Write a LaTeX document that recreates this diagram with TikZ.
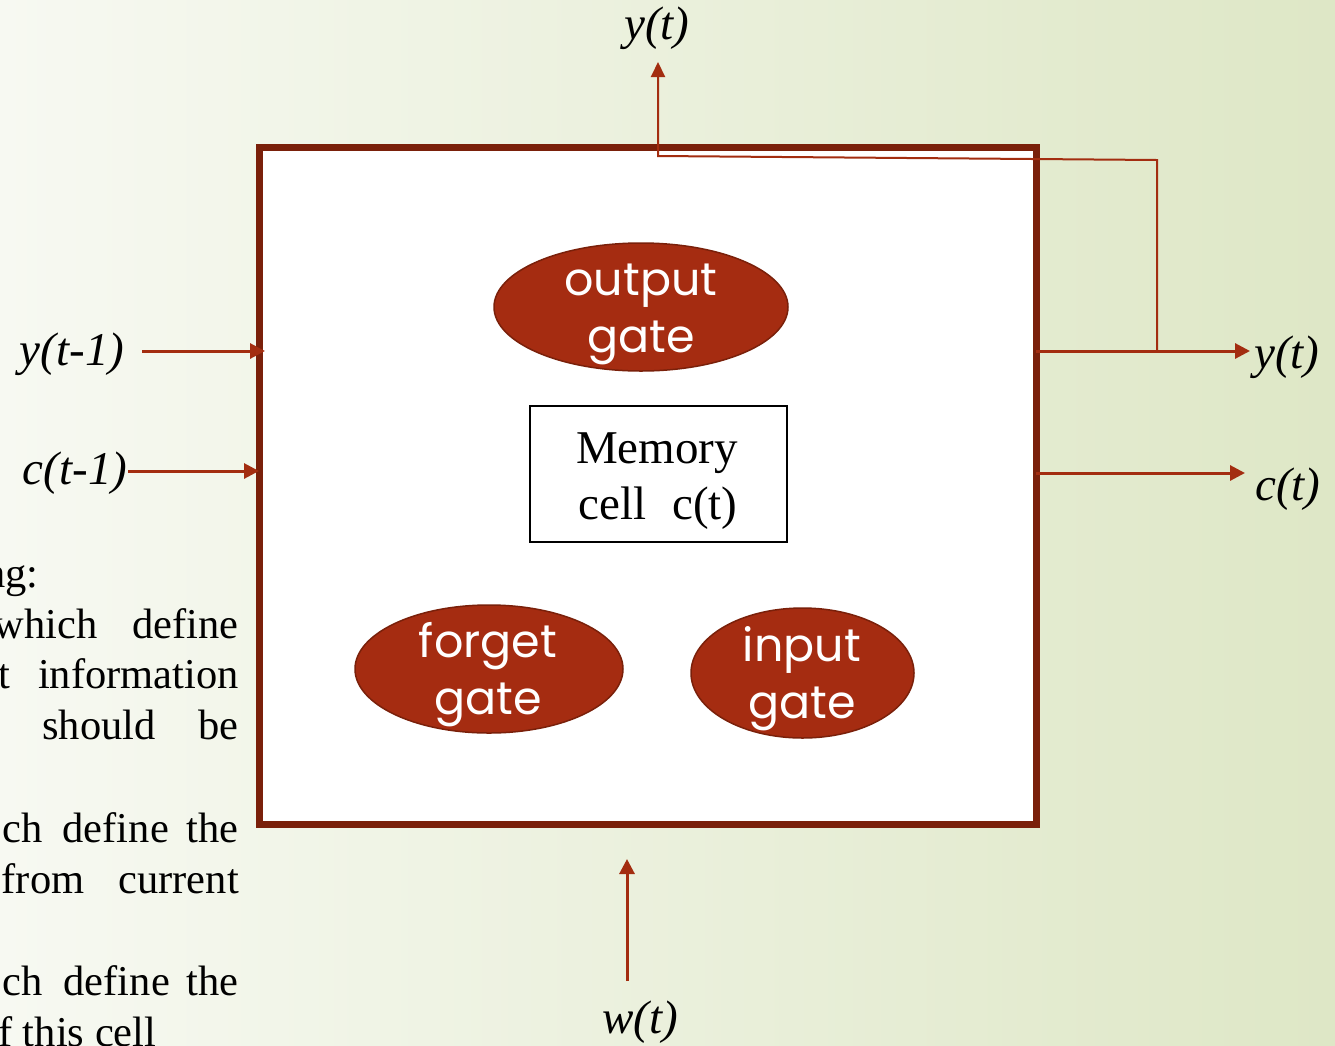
\documentclass[tikz,border=0pt]{standalone}
\usepackage{fontspec}
\setmainfont{Liberation Serif}
\newfontfamily\gatefont{Poppins}
\usetikzlibrary{arrows.meta,shapes.geometric}
\definecolor{boxbrown}{HTML}{7A200A}
\definecolor{rust}{HTML}{A32D10}
\definecolor{gatefill}{HTML}{A52C11}
\definecolor{bgleft}{HTML}{F7F9F2}
\definecolor{bgright}{HTML}{DEE7C6}

\begin{document}
\begin{tikzpicture}[x=1pt,y=-1pt,
  lbl/.style={font=\fontsize{47}{52}\selectfont\itshape, inner sep=0pt},
  gate/.style={ellipse, fill=gatefill, draw=boxbrown, line width=1.5pt,
    minimum height=128pt, inner sep=0pt},
  gatetext/.style={text=white, font=\gatefont\fontsize{46}{57}\selectfont,
    inner sep=0pt, anchor=base},
  flow/.style={draw=rust, line width=3pt, -{Triangle[length=15pt,width=15pt]}},
  thinflow/.style={draw=rust, line width=2pt, -{Triangle[length=15pt,width=14pt]}},
  body/.style={font=\fontsize{42.5}{51}\selectfont, inner sep=0pt, anchor=base east}
]
\useasboundingbox (0,0) rectangle (1335,1045);
\clip (0,0) rectangle (1335,1045);
\shade[left color=bgleft, right color=bgright] (0,0) rectangle (1335,1045);

% explanatory text running in from the left edge
\node[body] (t1) at (39,587) {ng:};
\node[body] (t2) at (239,638) {which\hspace{35pt}define};
\node[body] (t3) at (239,688) {t\hspace{28pt}information};
\node[body] (t4) at (239,739) {should\hspace{43pt}be};
\node[body] (t5) at (239,842) {ch\hspace{20pt}define\hspace{18pt}the};
\node[body] (t6) at (239,893) {from\hspace{34pt}current};
\node[body] (t7) at (239,995) {ch\hspace{21pt}define\hspace{17pt}the};
\node[body, anchor=base west] (t8) at (-2,1046) {f this cell};

% the LSTM cell
\node[draw=boxbrown, line width=7pt, fill=white, minimum width=777pt,
  minimum height=677pt, inner sep=0pt] (cell) at (647.5,485.5) {};

% gates
\node[gate, minimum width=294pt] (og) at (641,307) {};
\node[gatetext] (og1) at (641,295) {output};
\node[gatetext] (og2) at (641,352) {gate};

\node[gate, minimum width=268pt] (fg) at (489,669) {};
\node[gatetext] (fg1) at (488,657) {forget};
\node[gatetext] (fg2) at (488,714) {gate};

\node[gate, minimum width=223pt, minimum height=130pt] (ig) at (802.5,673) {};
\node[gatetext] (ig1) at (802,661) {input};
\node[gatetext] (ig2) at (802,718) {gate};

% memory cell
\node[draw=black, line width=1.5pt, fill=white, minimum width=257pt,
  minimum height=136pt, inner sep=0pt] (mem) at (658.5,474) {};
\node[font=\fontsize{47}{56}\selectfont, inner sep=0pt, anchor=base] (mem1) at (657,463) {Memory};
\node[font=\fontsize{47}{56}\selectfont, inner sep=0pt, anchor=base] (mem2) at (658,519) {cell\hspace{26pt}c(t)};

% signal labels
\node[lbl] (ytop) at (657,28) {y(t)};
\node[lbl] (yprev) at (72,354) {y(t-1)};
\node[lbl] (cprev) at (75,473) {c(t-1)};
\node[lbl] (yout) at (1287,357) {y(t)};
\node[lbl] (cout) at (1288,489) {c(t)};
\node[lbl] (win) at (640,1022) {w(t)};

% connector end points
\coordinate (yprevS) at (142,351);
\coordinate (yprevE) at (265,351);
\coordinate (cprevS) at (128,471);
\coordinate (cprevE) at (259,471);
\coordinate (youtS) at (1036,351);
\coordinate (youtE) at (1250,351);
\coordinate (coutS) at (1036,473);
\coordinate (coutE) at (1245,473);
\coordinate (split) at (1157,351);
\coordinate (bendR) at (1157,160);
\coordinate (bendL) at (658,156);
\coordinate (ytopE) at (658,62);
\coordinate (winS) at (627,981);
\coordinate (winE) at (627,859);

% connectors
\draw[flow] (yprevS) -- (yprevE);
\draw[flow] (cprevS) -- (cprevE);
\draw[flow] (youtS) -- (youtE);
\draw[flow] (coutS) -- (coutE);
\draw[flow] (winS) -- (winE);
\draw[thinflow] (split) -- (bendR) -- (bendL) -- (ytopE);
\end{tikzpicture}
\end{document}
